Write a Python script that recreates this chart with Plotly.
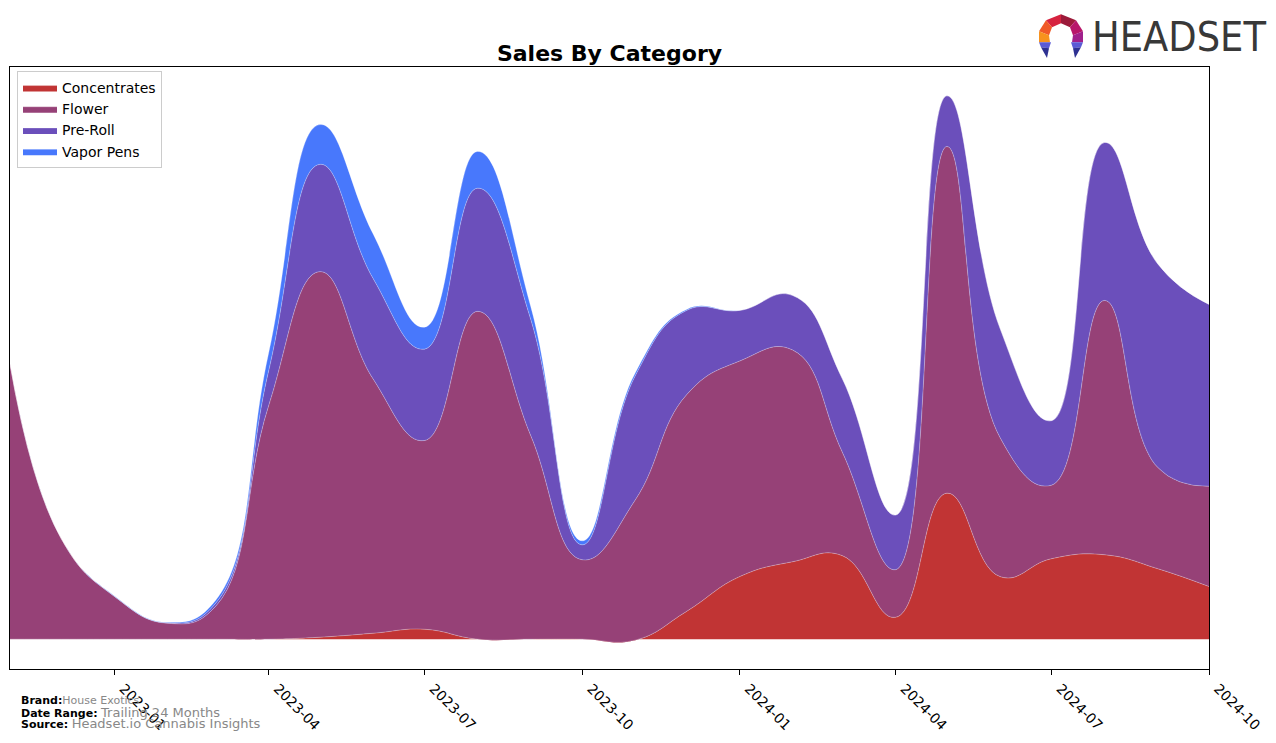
import plotly.graph_objects as go

# ---------------- data ----------------
months = ["2022-11-01", "2022-12-01", "2023-01-01", "2023-02-01", "2023-03-01", "2023-04-01",
          "2023-05-01", "2023-06-01", "2023-07-01", "2023-08-01", "2023-09-01", "2023-10-01",
          "2023-11-01", "2023-12-01", "2024-01-01", "2024-02-01", "2024-03-01", "2024-04-01",
          "2024-05-01", "2024-06-01", "2024-07-01", "2024-08-01", "2024-09-01", "2024-10-01"]

concentrates = [0, 0, 0, 0, 0, 0, 2, 6, 10, 0, 0, 0, -1, 28, 63, 78, 84, 22, 147, 63, 81, 85, 71, 53]
flower = [277, 101, 43, 16, 33, 235, 368, 256, 190, 330, 205, 80, 141, 218, 217, 213, 104, 48, 349, 140, 74, 256, 102, 101]
pre_roll = [0, 0, 0, 0.5, 3, 35, 108, 101, 92, 124, 117, 15, 125, 85, 51, 55, 74, 55, 51, 110, 65, 159, 205, 183]
vapor_pens = [0, 0, 0.5, 0.5, 3, 18, 40, 45, 22, 37, 13, 4, 3, 1, 0, 0, 0, 0, 0, 0, 0, 0, 0, 0]

series_names = ["Concentrates", "Flower", "Pre-Roll", "Vapor Pens"]
series_values = [concentrates, flower, pre_roll, vapor_pens]
series_colors = ["#C13434", "#964177", "#6B4FBB", "#4878FC"]

tick_vals = ["2023-01-01", "2023-04-01", "2023-07-01", "2023-10-01",
             "2024-01-01", "2024-04-01", "2024-07-01", "2024-10-01"]
tick_text = ["2023-01", "2023-04", "2023-07", "2023-10",
             "2024-01", "2024-04", "2024-07", "2024-10"]

# ---------------- layout geometry ----------------
W, H = 1276, 743
L, R, T, B = 10, 1209, 67, 673


def px_to_paper(x, y):
    return (x - L) / (R - L), (B - y) / (B - T)


fig = go.Figure()
for name, vals, col in zip(series_names, series_values, series_colors):
    fig.add_trace(go.Scatter(
        x=months, y=vals, name=name, stackgroup="one", mode="lines",
        line=dict(shape="spline", smoothing=1.3, width=0.8, color="rgba(255,255,255,0.35)"),
        fillcolor=col,
    ))

# ---------------- logo ----------------
shapes = []


def poly(points, color):
    pts = [px_to_paper(x, y) for x, y in points]
    path = "M " + " L ".join(f"{a:.5f},{b:.5f}" for a, b in pts) + " Z"
    shapes.append(dict(type="path", xref="paper", yref="paper", path=path,
                       fillcolor=color, line=dict(width=0), layer="above"))


Tp = (1061, 14)
OL1, OL2, OL3 = (1046, 20), (1039, 31), (1039, 42)
OR1, OR2, OR3 = (1076, 20), (1083, 31), (1083, 42)
IT = (1061, 23)
IL1, IL2, IL3 = (1052, 27), (1049, 35), (1050, 42)
IR1, IR2, IR3 = (1070, 27), (1073, 35), (1072, 42)
poly([Tp, OL1, IL1, IT], "#D6233F")
poly([Tp, OR1, IR1, IT], "#9C1A3A")
poly([OL1, OL2, IL2, IL1], "#F05A28")
poly([OL2, OL3, IL3, IL2], "#F7931E")
poly([OR1, OR2, IR2, IR1], "#B8166A")
poly([OR2, OR3, IR3, IR2], "#A0208C")
poly([(1039, 42), (1051, 42), (1049, 48), (1041, 47)], "#5B5BD6")
poly([(1041, 47), (1049, 48), (1047, 58)], "#2E3192")
poly([(1071, 42), (1083, 42), (1081, 47), (1073, 48)], "#5B5BD6")
poly([(1073, 48), (1081, 47), (1075, 58)], "#2E3192")

annotations = []
lx, ly = px_to_paper(1090, 37)
annotations.append(dict(x=lx, y=ly, xref="paper", yref="paper", xanchor="left", yanchor="middle",
                        text="HEADSET", showarrow=False,
                        font=dict(family="Liberation Sans Narrow, DejaVu Sans Condensed, sans-serif",
                                  size=41, color="#383838")))

# footer
footer = [
    (705, "<b>Brand:</b>", "House Exotics", 11),
    (717, "<b>Date Range:</b> ", "Trailing 24 Months", 13),
    (728, "<b>Source:</b> ", "Headset.io Cannabis Insights", 13),
]
for y, lab, val, vs in footer:
    fx, fy = px_to_paper(19, y)
    annotations.append(dict(
        x=fx, y=fy, xref="paper", yref="paper", xanchor="left", yanchor="middle", showarrow=False,
        text=f"<span style='font-size:11px;color:#000'>{lab}</span>"
             f"<span style='font-size:{vs}px;color:#888'>{val}</span>",
        font=dict(family="DejaVu Sans", size=11, color="#000")))

fig.update_layout(
    width=W, height=H, autosize=False,
    margin=dict(l=L, r=W - R, t=T, b=H - B, pad=0),
    paper_bgcolor="white", plot_bgcolor="white",
    title=dict(text="<b>Sales By Category</b>", x=(L + R) / 2 / W, xanchor="center",
               y=1 - 53 / H, yanchor="middle", yref="container",
               font=dict(family="DejaVu Sans", size=22, color="black")),
    font=dict(family="DejaVu Sans", size=14, color="black"),
    showlegend=True,
    legend=dict(x=(17 - L) / (R - L), y=(B - 71) / (B - T), xanchor="left", yanchor="top",
                bgcolor="white", bordercolor="#CCCCCC", borderwidth=1,
                font=dict(family="DejaVu Sans", size=14, color="black"),
                traceorder="normal", itemwidth=34),
    shapes=shapes,
    annotations=annotations,
)
fig.update_xaxes(
    range=["2022-11-01", "2024-10-01"], tickmode="array", tickvals=tick_vals, ticktext=tick_text,
    tickangle=45, ticks="outside", ticklen=5, tickwidth=1, tickcolor="black",
    ticklabelshift=9,
    showline=True, linecolor="black", linewidth=1, mirror=True, showgrid=False, zeroline=False,
    tickfont=dict(family="DejaVu Sans", size=14, color="black"),
)
fig.update_yaxes(
    range=[-30, 576], showticklabels=False, ticks="", showgrid=False, zeroline=False,
    showline=True, linecolor="black", linewidth=1, mirror=True,
)

fig.write_html("out.html")
